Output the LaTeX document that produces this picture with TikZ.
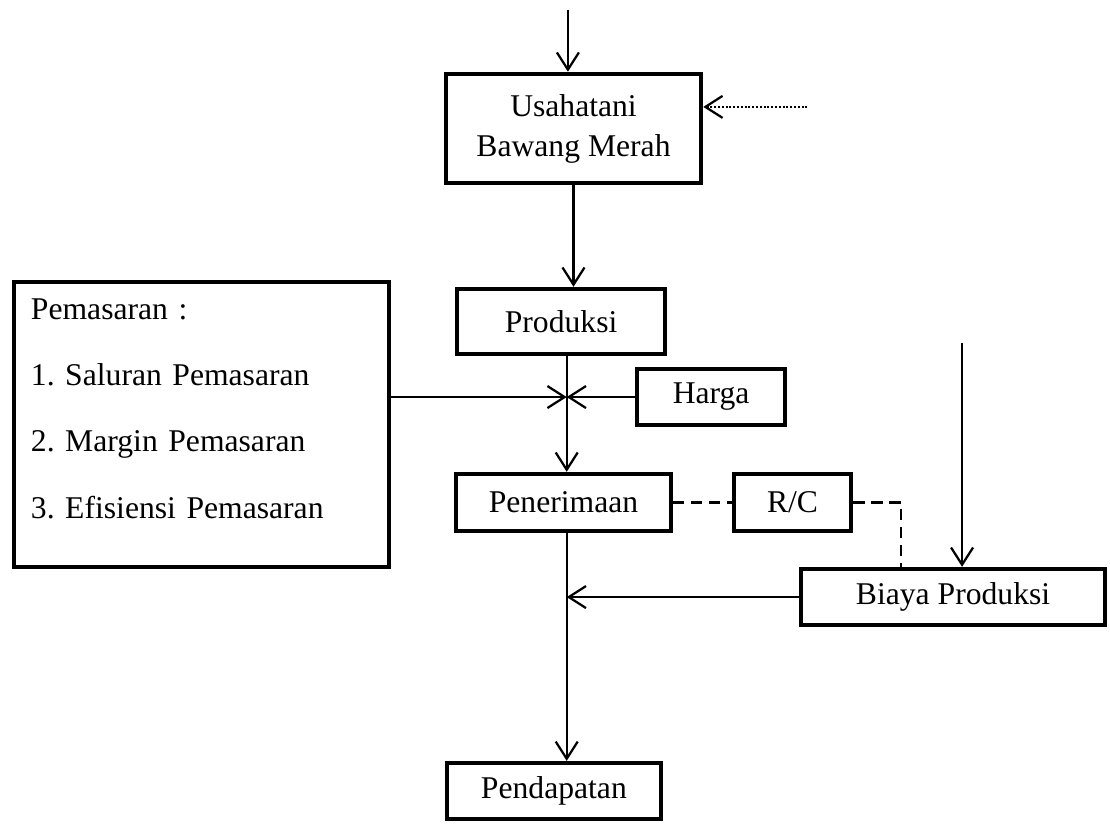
\documentclass[tikz,border=0pt]{standalone}
\usepackage{fontspec}
\setmainfont{Liberation Serif}
\usetikzlibrary{arrows.meta, positioning}
\frenchspacing

\begin{document}
\begin{tikzpicture}[
        x=0.025cm, y=-0.025cm,
        flowBox/.style={
            draw=black,
            line width=3.2pt,
            align=center,
            inner sep=0pt,
            font=\fontsize{22.5}{28.5}\selectfont
        },
        listBox/.style={
            flowBox,
            align=left,
            text width=8.525cm,
            inner xsep=0.425cm,
            minimum height=7.125cm,
            font=\fontsize{22.5}{47}\selectfont
        },
        flowArrow/.style={
            line width=1.6pt,
            -{Straight Barb[length=0.43cm, width=0.55cm]}
        },
        dashLink/.style={
            line width=1.6pt,
            dash pattern=on 0.28cm off 0.17cm
        },
        dotLink/.style={
            line width=1.6pt,
            dash pattern=on 1.4pt off 1.3pt,
            -{Straight Barb[length=0.43cm, width=0.55cm]}
        }
    ]

        \useasboundingbox (0,0) rectangle (1110,825);

        % Main column
        \node[
            flowBox,
            minimum width=6.375cm,
            minimum height=2.725cm
        ] (usaha) at (573.5,128.5) {
            Usahatani\\
            Bawang Merah
        };

        \node[
            flowBox,
            below=2.537cm of usaha,
            xshift=-0.31cm,
            minimum width=5.2cm,
            minimum height=1.625cm
        ] (produksi) {Produksi};

        \node[
            flowBox,
            below=2.887cm of produksi,
            xshift=0.06cm,
            minimum width=5.375cm,
            minimum height=1.425cm
        ] (penerimaan) {Penerimaan};

        \node[
            flowBox,
            below=5.687cm of penerimaan,
            xshift=-0.24cm,
            minimum width=5.35cm,
            minimum height=1.4cm
        ] (pendapatan) {Pendapatan};

        % Side boxes
        \node[
            listBox,
            left=1.587cm of produksi.north west,
            anchor=north east,
            yshift=0.175cm
        ] (pemasaran) {
            Pemasaran :\\
            1. Saluran Pemasaran\\
            2. Margin Pemasaran\\
            3. Efisiensi Pemasaran\rule[-0.8cm]{0pt}{0pt}
        };

        \node[
            flowBox,
            below right=0.262cm and -0.813cm of produksi,
            minimum width=3.7cm,
            minimum height=1.4cm
        ] (harga) {Harga};

        \node[
            flowBox,
            right=1.462cm of penerimaan,
            minimum width=2.925cm,
            minimum height=1.425cm
        ] (rc) {R/C};

        \node[
            flowBox,
            below right=0.837cm and -1.363cm of rc,
            minimum width=7.6cm,
            minimum height=1.4cm
        ] (biaya) {Biaya Produksi};

        % Free ends and junctions
        \coordinate (topIn) at ([xshift=-0.14cm, yshift=1.55cm]usaha.north);
        \coordinate (sideIn) at ([xshift=2.6cm, yshift=0.54cm]usaha.east);
        \coordinate (merge) at ([xshift=0.14cm]produksi.south |- harga.west);
        \coordinate (collect) at (merge |- biaya.west);
        \coordinate[right=1.194cm of rc.east] (rcCorner);
        \coordinate[above=5.6cm of biaya.north, xshift=0.225cm] (costIn);

        % Connectors
        \draw[flowArrow] (topIn) -- (topIn |- usaha.north);
        \draw[dotLink] (sideIn) -- (sideIn -| usaha.east);
        \draw[flowArrow] (usaha.south) -- (usaha.south |- produksi.north);
        \draw[flowArrow] (merge |- produksi.south) -- (merge |- penerimaan.north);
        \draw[flowArrow] (pemasaran.east |- merge) -- (merge);
        \draw[flowArrow] (harga.west) -- (merge);
        \draw[flowArrow] (merge |- penerimaan.south) -- (merge |- pendapatan.north);
        \draw[flowArrow] (biaya.west) -- (collect);
        \draw[flowArrow] (costIn) -- (costIn |- biaya.north);
        \draw[dashLink] (penerimaan.east) -- (rc.west);
        \draw[dashLink] (rc.east) -- (rcCorner) -- (rcCorner |- biaya.north);

\end{tikzpicture}
\end{document}
